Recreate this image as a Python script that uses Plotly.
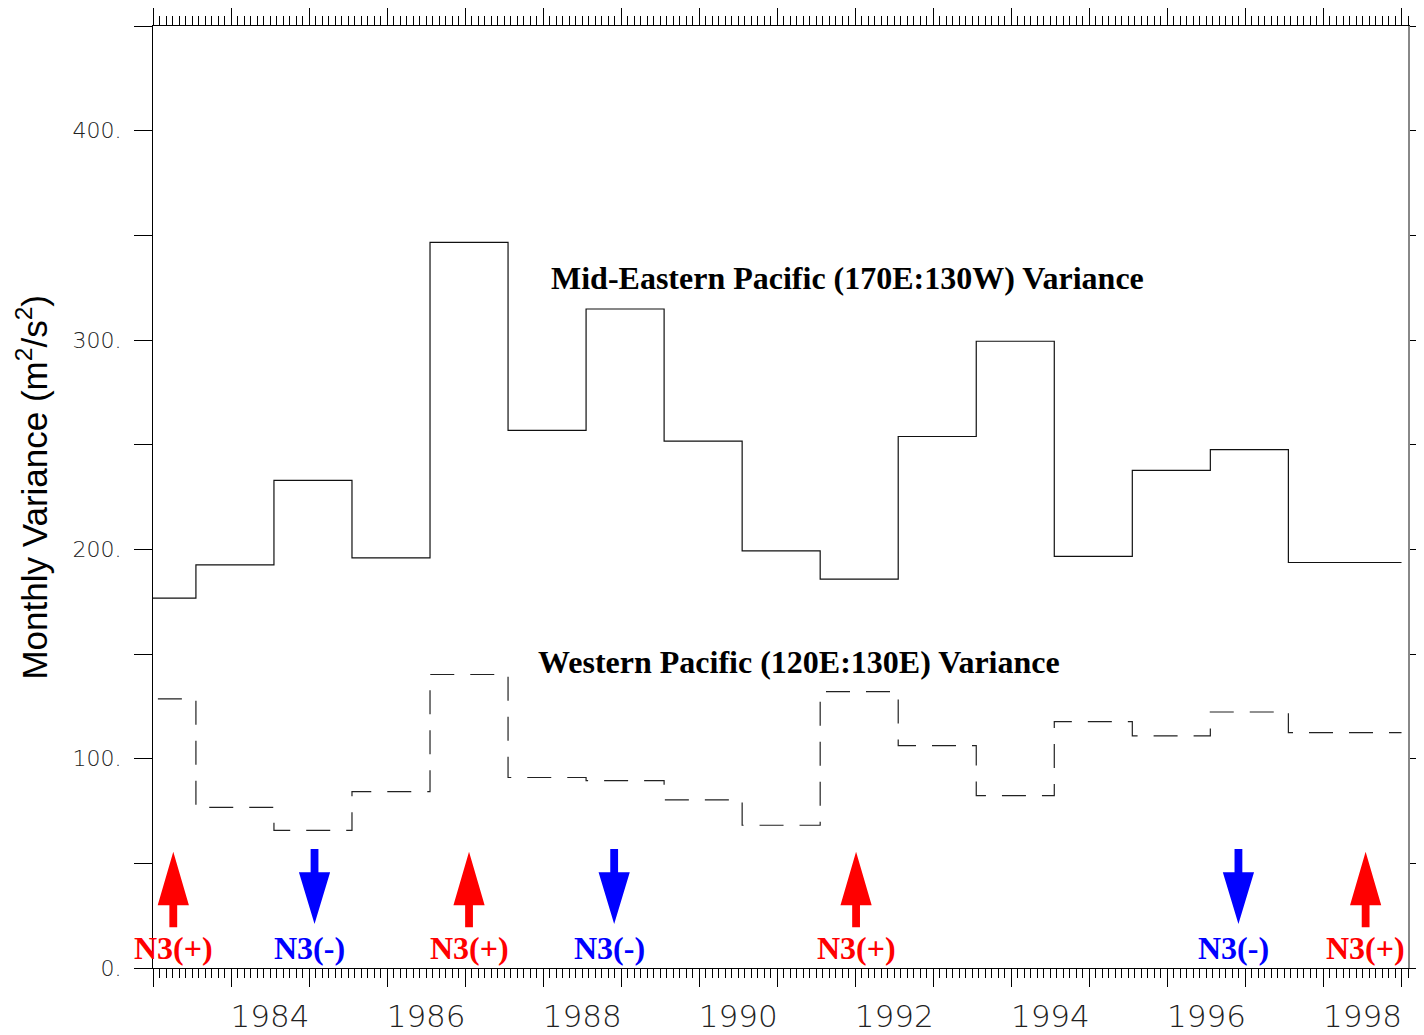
import plotly.graph_objects as go

# ---------------- data ----------------
period_start = [1982.55 + i for i in range(16)]   # start of each annual period (decimal year)
period_end_last = 1999.0
mid_eastern_var = [176.7, 192.6, 232.9, 195.9, 346.6, 256.8, 314.8, 251.7,
                   199.3, 185.8, 253.9, 299.4, 196.6, 237.7, 247.6, 193.7]
western_var = [128.6, 76.7, 65.7, 84.3, 140.2, 91.0, 89.5, 80.3,
               68.2, 132.0, 106.2, 82.3, 117.7, 110.9, 122.3, 112.4]

n3_pos_years = [1983.26, 1987.05, 1992.01, 1998.54]   # N3(+) events
n3_neg_years = [1985.07, 1988.91, 1996.91]            # N3(-) events

year_labels = [1984, 1986, 1988, 1990, 1992, 1994, 1996, 1998]
y_tick_vals = [0, 100, 200, 300, 400]
y_tick_text = ["0.", "100.", "200.", "300.", "400."]

X_RANGE = [1983.0, 1999.083]
Y_RANGE = [0, 450]

# page body has an 8px default margin -> figure is sized/offset to compensate
PAGE_OFF = 8
W, H = 1424 - PAGE_OFF, 1035 - PAGE_OFF
ML, MR, MT = 153 - PAGE_OFF, 16, 26 - PAGE_OFF
MB = PAGE_OFF + H - 968
PLOT_W = W - ML - MR

# ---------------- figure ----------------
fig = go.Figure()

xs = period_start + [period_end_last]
fig.add_trace(go.Scatter(x=xs, y=mid_eastern_var + [mid_eastern_var[-1]],
                         mode="lines", line=dict(color="#111", width=1.2, shape="hv"),
                         showlegend=False, hoverinfo="skip"))
fig.add_trace(go.Scatter(x=xs, y=western_var + [western_var[-1]],
                         mode="lines", line=dict(color="#222", width=1.2, shape="hv",
                                                  dash="24px,16px"),
                         showlegend=False, hoverinfo="skip"))

# arrow glyph geometry (years / data units)
HW, SW = 0.20, 0.05


def up_arrow(x):
    tip, base, bottom = 55.5, 30.0, 19.5
    return ([x, x + HW, x + SW, x + SW, x - SW, x - SW, x - HW, x, None],
            [tip, base, base, bottom, bottom, base, base, tip, None])


def down_arrow(x):
    top, base, tip = 56.8, 45.8, 21.0
    return ([x - SW, x + SW, x + SW, x + HW, x, x - HW, x - SW, x - SW, None],
            [top, top, base, base, tip, base, base, top, None])


px, py = [], []
for e in n3_pos_years:
    a, b = up_arrow(e)
    px += a
    py += b
nx, ny = [], []
for e in n3_neg_years:
    a, b = down_arrow(e)
    nx += a
    ny += b

fig.add_trace(go.Scatter(x=px, y=py, mode="lines", fill="toself", fillcolor="#ff0000",
                         line=dict(width=0, color="#ff0000"), showlegend=False,
                         hoverinfo="skip"))
fig.add_trace(go.Scatter(x=nx, y=ny, mode="lines", fill="toself", fillcolor="#0000ff",
                         line=dict(width=0, color="#0000ff"), showlegend=False,
                         hoverinfo="skip"))

serif = "Liberation Serif, Times New Roman, serif"
for e in n3_pos_years:
    fig.add_annotation(x=e, y=9.4, text="<b>N3(+)</b>", showarrow=False,
                       font=dict(family=serif, size=32, color="#ff0000"),
                       xanchor="center", yanchor="middle")
for e in n3_neg_years:
    fig.add_annotation(x=e, y=9.4, text="<b>N3(-)</b>", showarrow=False, xshift=-5,
                       font=dict(family=serif, size=32, color="#0000ff"),
                       xanchor="center", yanchor="middle")

fig.add_annotation(x=1988.07, y=329.5, text="<b>Mid-Eastern Pacific (170E:130W) Variance</b>",
                   showarrow=False, xanchor="left", yanchor="middle",
                   font=dict(family=serif, size=32, color="black"))
fig.add_annotation(x=1987.91, y=146.3, text="<b>Western Pacific (120E:130E) Variance</b>",
                   showarrow=False, xanchor="left", yanchor="middle",
                   font=dict(family=serif, size=32, color="black"))

# y-axis title
fig.add_annotation(xref="paper", yref="paper", x=(32 - 153) / PLOT_W, y=0.51,
                   text="Monthly Variance (m<sup>2</sup>/s<sup>2</sup>)",
                   textangle=-90, showarrow=False, xanchor="center", yanchor="middle",
                   font=dict(family="Liberation Sans, Arial", size=35, color="black"))

tickfont = dict(family="DejaVu Sans", size=31, color="#222", weight=200)
y_minor = dict(tick0=0, dtick=50, ticks="outside", ticklen=18, tickwidth=1.3,
               tickcolor="black", showgrid=False)

fig.update_layout(
    template="none",
    width=W, height=H, autosize=False,
    paper_bgcolor="white", plot_bgcolor="white",
    margin=dict(l=ML, r=MR, t=MT, b=MB, autoexpand=False),
    xaxis=dict(range=X_RANGE, showgrid=False, zeroline=False, automargin=False,
               showline=True, linecolor="black", linewidth=1, mirror="ticks",
               tickmode="array", tickvals=list(range(1983, 2000)),
               ticks="outside", ticklen=18, tickwidth=1.3, tickcolor="black",
               showticklabels=False,
               minor=dict(tick0=1983, dtick=1 / 12, ticks="outside", ticklen=9,
                          tickwidth=1, tickcolor="black", showgrid=False)),
    xaxis2=dict(range=X_RANGE, overlaying="x", anchor="y", side="bottom",
                showgrid=False, zeroline=False, showline=False, automargin=False,
                tickmode="array", tickvals=[y + 0.5 for y in year_labels],
                ticktext=[str(y) for y in year_labels],
                ticks="outside", ticklen=21, tickcolor="rgba(0,0,0,0)",
                tickfont=tickfont),
    yaxis=dict(range=Y_RANGE, showgrid=False, zeroline=False, automargin=False,
               showline=True, linecolor="black", linewidth=1,
               tickmode="array", tickvals=y_tick_vals, ticktext=y_tick_text,
               ticks="outside", ticklen=18, tickwidth=1.3, tickcolor="black",
               ticklabelstandoff=8, minor=y_minor,
               tickfont=dict(family="DejaVu Sans", size=22, color="#222", weight=200)),
    yaxis2=dict(range=Y_RANGE, overlaying="y", anchor="x", side="right",
                showgrid=False, zeroline=False, automargin=False,
                showline=True, linecolor="#888", linewidth=2,
                tickmode="array", tickvals=y_tick_vals, showticklabels=False,
                ticks="outside", ticklen=16, tickwidth=1.3, tickcolor="black",
                minor=dict(y_minor, ticklen=16)),
)

# an invisible trace on the overlay axes so they are drawn
fig.add_trace(go.Scatter(x=[X_RANGE[0]], y=[Y_RANGE[0]], xaxis="x2", yaxis="y2",
                         mode="markers", marker=dict(opacity=0), showlegend=False,
                         hoverinfo="skip"))

fig.write_html("out.html")
